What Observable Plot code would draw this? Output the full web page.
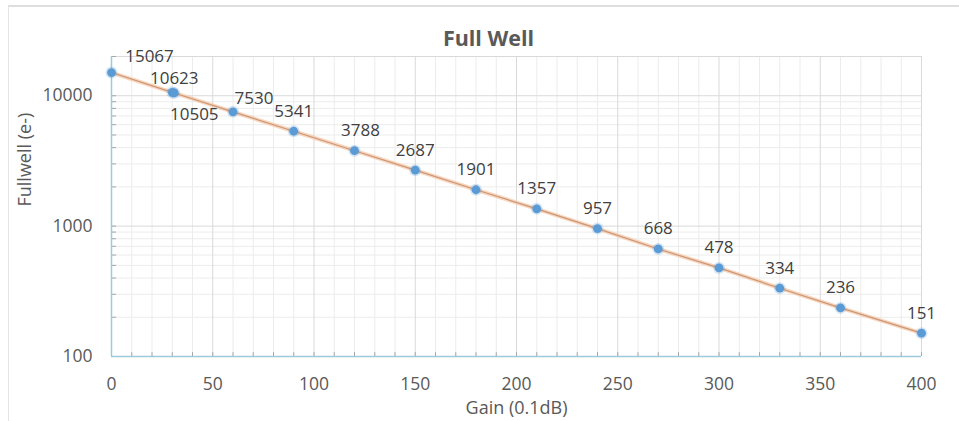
<!DOCTYPE html>
<html>
<head>
<meta charset="utf-8">
<script src="https://cdn.jsdelivr.net/npm/d3@7"></script>
<script src="https://cdn.jsdelivr.net/npm/@observablehq/plot@0.6"></script>
<style>
  html, body { margin: 0; padding: 0; background: #ffffff; }
  #wrap { position: relative; width: 959px; height: 421px; overflow: hidden; }
  #frame { position: absolute; left: 8px; top: 5px; width: 1000px; height: 500px;
           border-top: 2px solid #dedede; border-left: 1.5px solid #e4e4e4; }
  #chart { position: absolute; left: 0; top: 0; }
</style>
</head>
<body>
<div id="wrap"><div id="frame"></div><div id="chart"></div></div>
<script>
// ---- data ----
const gain = [0, 30, 31, 60, 90, 120, 150, 180, 210, 240, 270, 300, 330, 360, 400];
const fullwell = [15067, 10623, 10505, 7530, 5341, 3788, 2687, 1901, 1357, 957, 668, 478, 334, 236, 151];
const xTicks = [0, 50, 100, 150, 200, 250, 300, 350, 400];
const yTicks = [100, 1000, 10000];
const title = "Full Well";
const xLabel = "Gain (0.1dB)";
const yLabel = "Fullwell (e-)";

const data = gain.map((g, i) => ({gain: g, fw: fullwell[i], i}));

// label offsets (style only)
const labelDx = i => (i === 0 ? 38 : i === 1 ? 2 : i === 2 ? 20 : i === 3 ? 21 : i === 5 ? 6 : 0);
const labelDy = i => (i === 0 ? -16 : i === 1 ? -14 : i === 2 ? 22 : i === 3 ? -13 : -20);

// grid helpers
const xMinor = d3.range(0, 401, 10).filter(v => v % 50 !== 0);
const yMinor = [];
for (const dec of [100, 1000, 10000]) for (let k = 2; k <= 9; k++) { const v = dec * k; if (v <= 20000) yMinor.push(v); }

const font = "'Open Sans', 'DejaVu Sans', sans-serif";
const txt = "#595959";

const chart = Plot.plot({
  width: 959,
  height: 421,
  marginLeft: 111,
  marginRight: 38,
  marginTop: 56,
  marginBottom: 65,
  style: {fontFamily: font, fontSize: "17px", color: txt, background: "transparent", overflow: "visible"},
  x: {type: "linear", domain: [0, 400], axis: null},
  y: {type: "log", domain: [100, 20000], axis: null},
  marks: [
    // minor grid
    Plot.ruleX(xMinor, {x: d => d, stroke: "#ececec", strokeWidth: 1}),
    Plot.ruleY(yMinor, {y: d => d, stroke: "#ececec", strokeWidth: 1}),
    // major grid
    Plot.ruleX(xTicks.slice(1), {x: d => d, stroke: "#d9d9d9", strokeWidth: 1}),
    Plot.ruleY([1000, 10000, 20000], {y: d => d, stroke: "#d9d9d9", strokeWidth: 1}),
    // minor ticks on axes
    Plot.ruleY(yMinor.concat([1000, 10000]), {y: d => d, x1: 0, x2: 2.5, stroke: "#a6a6a6", strokeWidth: 1}),
    Plot.ruleX(xMinor.concat(xTicks), {x: d => d, y1: 100, y2: 107, stroke: "#a6a6a6", strokeWidth: 1}),
    // axis lines
    Plot.ruleX([0], {stroke: "#9cc9dc", strokeWidth: 1.5}),
    Plot.ruleY([100], {stroke: "#9cc9dc", strokeWidth: 1.5}),
    // axes labels
    Plot.axisX({ticks: xTicks, tickSize: 0, tickPadding: 21, fontSize: 17.5, fill: txt, tickFormat: d => String(d), label: null}),
    Plot.axisY({ticks: yTicks, tickSize: 0, tickPadding: 19, fontSize: 17.5, fill: txt, tickFormat: d => String(d), label: null}),
    // series line (trend)
    Plot.line(data, {x: "gain", y: "fw", stroke: "#f8cbad", strokeWidth: 4, strokeOpacity: 0.8}),
    Plot.line(data, {x: "gain", y: "fw", stroke: "#c99878", strokeWidth: 1.2}),
    // points
    Plot.dot(data, {x: "gain", y: "fw", r: 6, fill: "#5b9bd5", fillOpacity: 0.25}),
    Plot.dot(data, {x: "gain", y: "fw", r: 4.4, fill: "#5b9bd5"}),
    // data labels
    ...data.map(d => Plot.text([d], {x: "gain", y: "fw", text: e => String(e.fw), dx: labelDx(d.i), dy: labelDy(d.i), fill: "#404040", fontSize: 17})),
    // titles
    Plot.text([title], {frameAnchor: "top", dx: -28, dy: -26, fontSize: 21.5, fontWeight: "bold", fill: txt}),
    Plot.text([xLabel], {frameAnchor: "bottom", dy: 57, fontSize: 18, fill: txt}),
    Plot.text([yLabel], {frameAnchor: "left", dx: -86, rotate: -90, fontSize: 18, fill: txt})
  ]
});
document.getElementById("chart").appendChild(chart);
</script>
</body>
</html>
